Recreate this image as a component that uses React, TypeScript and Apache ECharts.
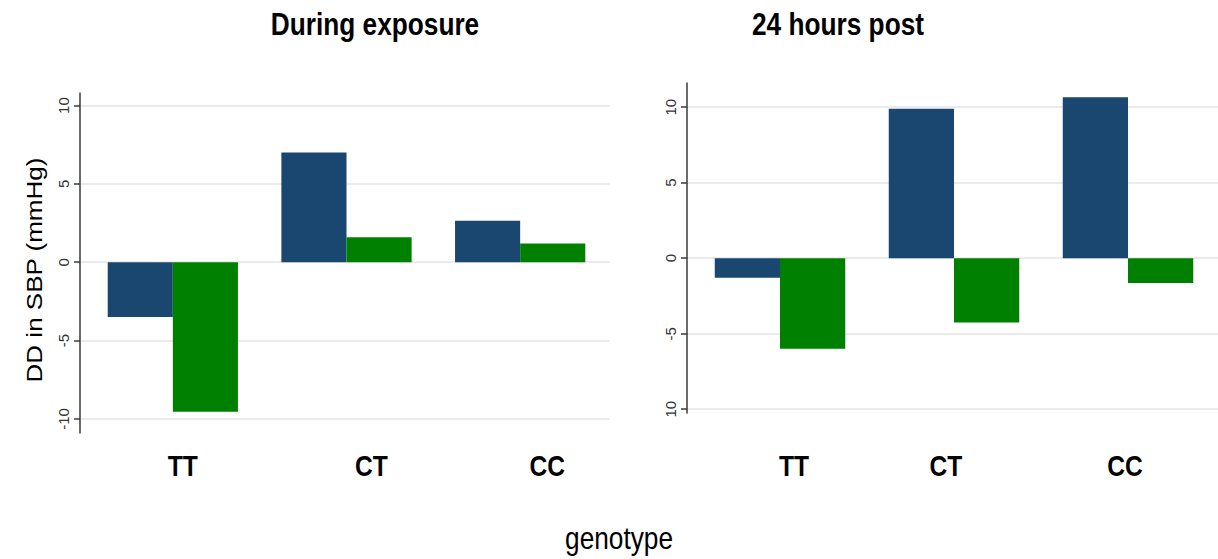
import React, { useEffect, useRef } from 'react';
import * as echarts from 'echarts';

// Genotype groups and the two bar series for each panel (mmHg)
const categories = ['TT', 'CT', 'CC'];
const duringFirst = [-3.5, 7.0, 2.65];
const duringSecond = [-9.55, 1.6, 1.2];
const postFirst = [-1.3, 9.9, 10.65];
const postSecond = [-6.0, -4.25, -1.65];
const tickValues = [-10, -5, 0, 5, 10];
const panelTitles = ['During exposure', '24 hours post'];
const xTitle = 'genotype';
const yTitle = 'DD in SBP (mmHg)';

const NAVY = '#1a476f';
const GREEN = '#008000';
const SANS = "'Liberation Sans', Arial, sans-serif";
// horizontal squeeze applied to the upright texts
const SQUEEZE = 0.82;

// value ranges of the two panels
const panelRanges = [
  [-10.9, 10.8],
  [-10.25, 11.6],
];

// label nudges (px) relative to each category centre, per panel
const labelShifts = [
  [10, 25, 27],
  [14, -8, -3],
];

function xAxisFor(gridIndex: number) {
  return {
    type: 'category',
    gridIndex,
    data: categories,
    axisLine: { show: false },
    axisTick: { show: false },
    splitLine: { show: false },
    axisLabel: { show: false },
  };
}

function yAxisFor(gridIndex: number, range: number[], fmt: (v: number) => string) {
  return {
    type: 'value',
    gridIndex,
    min: range[0],
    max: range[1],
    axisLine: { show: true, lineStyle: { color: '#3a3a3a', width: 1.5 } },
    axisTick: { show: true, length: 6, customValues: tickValues, lineStyle: { color: '#3a3a3a', width: 1.5 } },
    axisLabel: {
      customValues: tickValues,
      rotate: 90,
      margin: 9,
      fontSize: 15,
      fontFamily: SANS,
      color: '#333',
      formatter: fmt,
    },
    splitLine: { show: true, lineStyle: { color: '#e4e4e4', width: 1.5 } },
  };
}

// plain value axis for the bar grids (same range, nothing drawn)
function hiddenY(gridIndex: number, range: number[]) {
  return {
    type: 'value',
    gridIndex,
    min: range[0],
    max: range[1],
    axisLine: { show: false },
    axisTick: { show: false },
    axisLabel: { show: false },
    splitLine: { show: false },
  };
}

function barSeries(name: string, data: number[], color: string, axisIndex: number) {
  return {
    type: 'bar',
    name,
    data,
    xAxisIndex: axisIndex,
    yAxisIndex: axisIndex,
    barGap: '0%',
    barCategoryGap: '25%',
    itemStyle: { color },
  };
}

function squeezedText(text: string, x: number, y: number, font: string, rotation = 0, scaleX = SQUEEZE) {
  return {
    type: 'text',
    x,
    y,
    rotation,
    scaleX,
    style: { text, font, fill: '#000', textAlign: 'center', textVerticalAlign: 'middle' },
  };
}

export default function App() {
  const ref = useRef<HTMLDivElement>(null);

  useEffect(() => {
    if (!ref.current) return;
    const chart = echarts.init(ref.current, undefined, { renderer: 'svg' });
    chart.setOption({
      animation: false,
      backgroundColor: '#fff',
      grid: [
        // frames with axes and grid lines
        { left: 80, top: 93, width: 530, height: 340 },
        { left: 687, top: 83, width: 531, height: 330 },
        // bar areas, inset slightly from the frames
        { left: 86, top: 93, width: 521, height: 340 },
        { left: 693, top: 83, width: 522, height: 330 },
      ],
      xAxis: [xAxisFor(0), xAxisFor(1), xAxisFor(2), xAxisFor(3)],
      yAxis: [
        yAxisFor(0, panelRanges[0], (v: number) => String(v)),
        yAxisFor(1, panelRanges[1], (v: number) => (v === -10 ? '10' : String(v))),
        hiddenY(2, panelRanges[0]),
        hiddenY(3, panelRanges[1]),
      ],
      series: [
        barSeries('first', duringFirst, NAVY, 2),
        barSeries('second', duringSecond, GREEN, 2),
        barSeries('first', postFirst, NAVY, 3),
        barSeries('second', postSecond, GREEN, 3),
      ],
    });

    // category names placed under each group using the axis scale
    const catLabels: any[] = [];
    [0, 1].forEach((k) => {
      categories.forEach((c, i) => {
        const px = chart.convertToPixel({ xAxisIndex: k + 2 } as any, c) as number;
        catLabels.push(squeezedText(c, px + labelShifts[k][i], 466, `bold 30px ${SANS}`));
      });
    });

    chart.setOption({
      graphic: [
        squeezedText(panelTitles[0], 375, 24, `bold 32px ${SANS}`),
        squeezedText(panelTitles[1], 838, 24, `bold 32px ${SANS}`),
        squeezedText(xTitle, 619, 538, `32px ${SANS}`),
        { ...squeezedText(yTitle, 34, 270, `26px ${SANS}`, Math.PI / 2, 1), scaleY: SQUEEZE },
        ...catLabels,
      ],
    });
    return () => chart.dispose();
  }, []);

  return <div ref={ref} style={{ position: 'absolute', left: 0, top: 0, width: 1218, height: 559 }} />;
}
